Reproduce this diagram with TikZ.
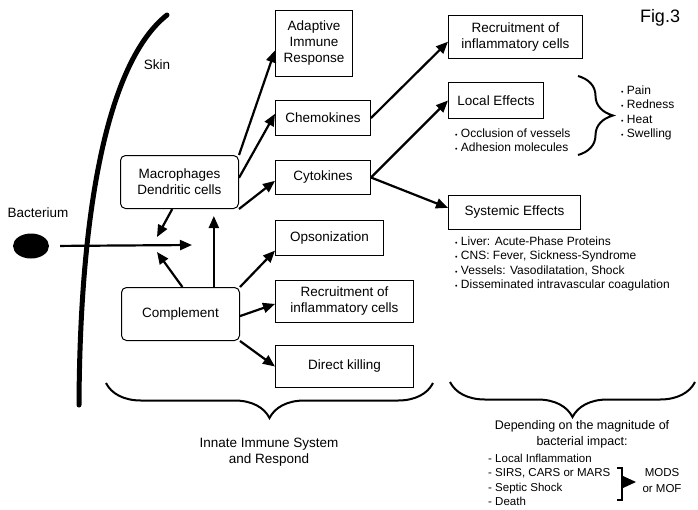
\documentclass[tikz,border=0pt]{standalone}
\usepackage{fontspec}
\setmainfont{Liberation Sans}
\usepackage{tikz}
\usetikzlibrary{arrows.meta,positioning,shapes.geometric,decorations.pathreplacing}
\newcommand{\bul}{{\fontsize{7}{7}\selectfont\textbullet}\ }

\begin{document}
\begin{tikzpicture}[x=1pt,y=-1pt,on grid]
	\tikzstyle{box}=[draw,rectangle,line width=1pt,anchor=north west,align=center,inner sep=0pt,font=\fontsize{13.5}{16}\selectfont]
	\tikzstyle{cell}=[box,rounded corners=5pt]
	\tikzstyle{list}=[anchor=west,align=left,inner sep=0pt,font=\fontsize{12}{14.3}\selectfont]
	\tikzstyle{txt}=[inner sep=0pt,align=center,font=\fontsize{13.5}{16.5}\selectfont]
	\tikzstyle{hit}=[line width=2.2pt,-{Triangle[length=12pt,width=10pt]}]
	\tikzstyle{curly}=[line width=2pt,decorate,decoration={brace,amplitude=35pt}]
	
	\useasboundingbox (0,0) rectangle (698,509);
	
	%
	% skin and bacterium
	%
	\draw [line width=5pt,line cap=round] (167,15) .. controls (110,60) and (80,200) .. (79,405);
	\node [txt] (skin) at (157,65) {Skin};
	\node [txt,font=\fontsize{18}{20}\selectfont] (fig) at (660,18) {Fig.3};
	
	\node [ellipse,fill,inner sep=0pt,minimum width=36pt,minimum height=25pt] (bact) at (31,246) {};
	\node [txt] (bact-lbl) at (38,213) {Bacterium};
	\coordinate (bact-end) at (192,245);
	
	%
	% innate cells
	%
	\node [cell,minimum width=118pt,minimum height=53pt] (mac) at (120,155) {Macrophages\\Dendritic cells};
	\node [cell,minimum width=118pt,minimum height=53pt] (comp) at (121,287) {Complement};
	
	\coordinate (mac-in) at (157,237);
	\coordinate (comp-in) at (157,252);
	
	%
	% first column
	%
	\node [box,minimum width=77pt,minimum height=66pt] (adapt) at (275,10) {Adaptive\\Immune\\Response};
	\node [box,minimum width=95pt,minimum height=35pt] (chemo) at (275,100) {Chemokines};
	\node [box,minimum width=95pt,minimum height=34pt] (cyto) at (275,160) {Cytokines};
	\node [box,minimum width=108pt,minimum height=35pt] (opso) at (275,220) {Opsonization};
	\node [box,minimum width=138pt,minimum height=42pt] (recr-c) at (275,280) {Recruitment of\\inflammatory cells};
	\node [box,minimum width=138pt,minimum height=42pt] (kill) at (275,345) {Direct killing};
	
	%
	% second column
	%
	\node [box,minimum width=134pt,minimum height=43pt] (recr-m) at (448,15) {Recruitment of\\inflammatory cells};
	\node [box,minimum width=95pt,minimum height=36pt] (local) at (448,82) {Local Effects};
	\node [box,minimum width=132pt,minimum height=34pt] (syst) at (448,195) {Systemic Effects};
	
	\node [list] (local-list) at (455,140) {\bul Occlusion of vessels\\\bul Adhesion molecules};
	\node [list] (signs) at (621,113) {\bul Pain\\\bul Redness\\\bul Heat\\\bul Swelling};
	\node [list] (syst-list) at (455,264) {\bul Liver: Acute-Phase Proteins\\\bul CNS: Fever, Sickness-Syndrome\\\bul Vessels: Vasodilatation, Shock\\\bul Disseminated intravascular coagulation};
	
	\begin{scope}[hit]
		\draw [shorten <=11pt] (bact.east) -- (bact-end);
		\draw (mac.-105) -- (mac-in);
		\draw (comp.86) -- (comp-in);
		\draw [shorten >=7pt] (comp.39) -- (comp.39 |- mac.south);
		\draw (mac.north east) -- (adapt.-170);
		\draw (mac.4) -- (chemo.175);
		\draw (mac.south east) -- (cyto.184);
		\draw (comp.north east) -- (opso.193);
		\draw (comp.-2) -- (recr-c.182);
		\draw (comp.south east) -- (kill.west);
		\draw (chemo.east) -- (recr-m.184);
		\draw (cyto.east) -- (local.west);
		\draw (cyto.east) -- (syst.176);
	\end{scope}
	
	%
	% braces and outcome
	%
	\draw [curly] (578,76) -- (578,155);
	\draw [curly,decoration={mirror}] (106,383) -- (433,383);
	\draw [curly,decoration={mirror}] (450,382) -- (695,382);
	
	\node [txt] (innate) at (269,452) {Innate Immune System\\and Respond};
	\node [txt,font=\fontsize{12.5}{16}\selectfont] (impact) at (582,434) {Depending on the magnitude of\\bacterial impact:};
	\node [list,font=\fontsize{11.5}{14.3}\selectfont] (outcome) at (488,480) {- Local Inflammation\\- SIRS, CARS or MARS\\- Septic Shock\\- Death};
	\node [list,anchor=center,align=center,font=\fontsize{11.5}{16}\selectfont] (mods) at (662,481) {MODS\\or MOF};
	
	\draw [line width=1.2pt] (617,468) -- (622,468) -- (622,500) -- (617,500);
	\fill (623,476) -- (636,482) -- (623,488) -- cycle;
	
\end{tikzpicture}
\end{document}
